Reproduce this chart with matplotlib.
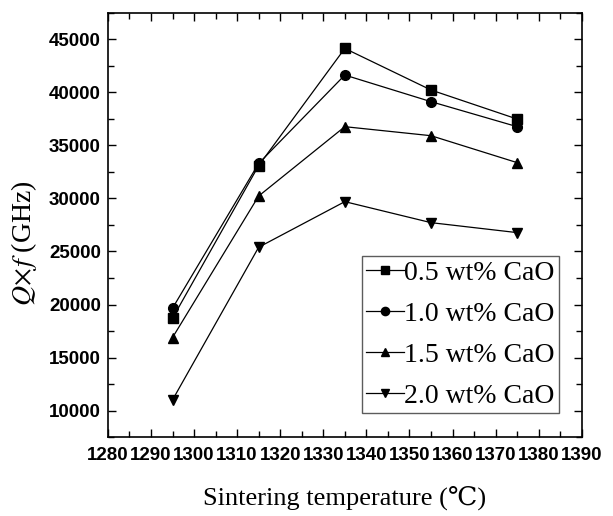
import matplotlib
matplotlib.use("Agg")
import matplotlib.pyplot as plt
from matplotlib.ticker import MultipleLocator

temps = [1295, 1315, 1335, 1355, 1375]
labels = ["0.5 wt% CaO", "1.0 wt% CaO", "1.5 wt% CaO", "2.0 wt% CaO"]
qf_05 = [18700, 33100, 44150, 40230, 37490]
qf_10 = [19650, 33300, 41640, 39130, 36770]
qf_15 = [16880, 30230, 36770, 35920, 33380]
qf_20 = [11000, 25400, 29700, 27720, 26780]
series = [qf_05, qf_10, qf_15, qf_20]
markers = ["s", "o", "^", "v"]

plt.rcParams["mathtext.fontset"] = "stix"

fig = plt.figure(figsize=(6.13, 5.16), dpi=100)
ax = fig.add_axes([0.176, 0.153, 0.773, 0.822])

for vals, m, lab in zip(series, markers, labels):
    ax.plot(temps, vals, color="black", lw=0.9, marker=m, markersize=7, label=lab)

ax.set_xlim(1280, 1390)
ax.set_ylim(7500, 47500)
ax.xaxis.set_major_locator(MultipleLocator(10))
ax.xaxis.set_minor_locator(MultipleLocator(5))
ax.yaxis.set_minor_locator(MultipleLocator(2500))
ax.set_yticks(range(10000, 45001, 5000))
ax.tick_params(which="both", direction="in", top=True, right=True, width=1.0)
ax.tick_params(which="major", length=6)
ax.tick_params(which="minor", length=4)
ax.tick_params(axis="x", pad=7)
ax.tick_params(axis="y", pad=5)
for s in ax.spines.values():
    s.set_linewidth(1.2)

for lbl in ax.get_xticklabels() + ax.get_yticklabels():
    lbl.set_fontfamily("Liberation Sans")
    lbl.set_fontweight("bold")
    lbl.set_fontsize(13.5)

ax.set_xlabel("Sintering temperature (\u2103)", fontfamily=["Liberation Serif", "DejaVu Serif"],
              fontsize=19, labelpad=16)
ax.set_ylabel(r"$Q\!\times\!f$ (GHz)", fontfamily="Liberation Serif", fontsize=20)
ax.yaxis.set_label_coords(-0.146, 0.458)

leg = ax.legend(loc="lower right", bbox_to_anchor=(0.951, 0.057),
                prop={"family": "Liberation Serif", "size": 20},
                frameon=True, fancybox=False, edgecolor="#333333",
                handlelength=1.35, handletextpad=0.0, labelspacing=0.56,
                borderpad=0.15, borderaxespad=0.0, markerscale=0.85)
leg.get_frame().set_linewidth(1.0)

fig.savefig("out.png", dpi=100)
